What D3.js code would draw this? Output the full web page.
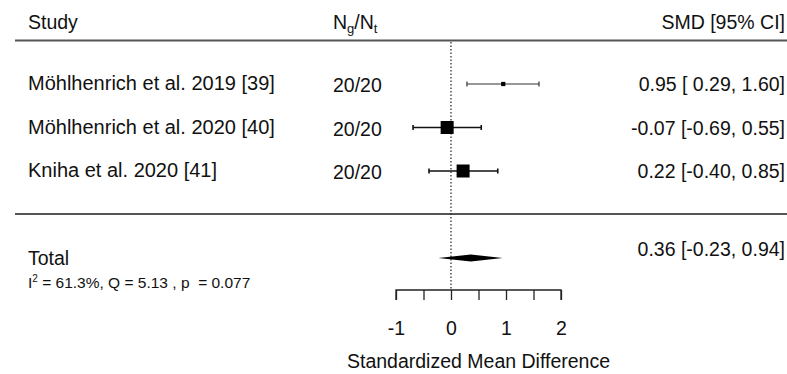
<!DOCTYPE html>
<html>
<head>
<meta charset="utf-8">
<script src="https://cdn.jsdelivr.net/npm/d3@7"></script>
<style>
  body { margin: 0; background: #fff; }
  text { font-family: Arial, "Liberation Sans", sans-serif; fill: #111; white-space: pre; }
</style>
</head>
<body>
<div id="chart"></div>
<script>
// study data
const studies = ['Möhlhenrich et al. 2019 [39]', 'Möhlhenrich et al. 2020 [40]', 'Kniha et al. 2020 [41]'];
const nText = ['20/20', '20/20', '20/20'];
const smd = [0.95, -0.07, 0.22];
const lower = [0.29, -0.69, -0.40];
const upper = [1.60, 0.55, 0.85];
const weights = [5, 47.5, 47.5];
const ciText = ['0.95 [ 0.29, 1.60]', '-0.07 [-0.69, 0.55]', '0.22 [-0.40, 0.85]'];

// pooled estimate
const total = { est: 0.36, lo: -0.23, hi: 0.94, label: '0.36 [-0.23, 0.94]' };
const hetText = ' = 61.3%, Q = 5.13 , p  = 0.077';

const xTicks = [-1, -0.5, 0, 0.5, 1, 1.5, 2];
const xTickLabels = [-1, 0, 1, 2];

const W = 787, H = 374;
const svg = d3.select('#chart').append('svg').attr('width', W).attr('height', H);

const x = d3.scaleLinear().domain([-1, 2]).range([396, 561]);
const rowY = d3.scalePoint().domain(studies).range([84, 171]);
const boxSize = d3.scaleSqrt().domain([0, 47.5]).range([0, 13]);

const lineCol = '#555';

// header
svg.append('text').attr('x', 28).attr('y', 29).attr('font-size', '19.5px').text('Study');
const nh = svg.append('text').attr('x', 333).attr('y', 29).attr('font-size', '19.5px');
nh.append('tspan').text('N');
nh.append('tspan').attr('font-size', '13px').attr('dy', 4).text('g');
nh.append('tspan').attr('dy', -4).text('/N');
nh.append('tspan').attr('font-size', '13px').attr('dy', 4).text('t');
svg.append('text').attr('x', 785).attr('y', 29).attr('text-anchor', 'end')
  .attr('font-size', '19.5px').text('SMD [95% CI]');

// horizontal rules
[40.5, 214].forEach(yy => {
  svg.append('line').attr('x1', 15).attr('x2', W).attr('y1', yy).attr('y2', yy)
    .attr('stroke', lineCol).attr('stroke-width', 2);
});

// zero line
svg.append('line').attr('x1', x(0)).attr('x2', x(0)).attr('y1', 42).attr('y2', 290)
  .attr('stroke', '#222').attr('stroke-width', 1.2).attr('stroke-dasharray', '1.5,2');

// study rows
studies.forEach((s, i) => {
  const y = rowY(s);
  svg.append('text').attr('x', 28).attr('y', y + 6).attr('font-size', '20px').text(s);
  svg.append('text').attr('x', 333).attr('y', y + 8).attr('font-size', '19.5px').text(nText[i]);
  svg.append('text').attr('x', 785).attr('y', y + 7).attr('text-anchor', 'end')
    .attr('font-size', '19.5px').text(ciText[i]);

  const sw = i === 0 ? 1.2 : 1.6;
  const col = i === 0 ? '#333' : '#111';
  svg.append('line').attr('x1', x(lower[i])).attr('x2', x(upper[i])).attr('y1', y).attr('y2', y)
    .attr('stroke', col).attr('stroke-width', sw);
  [lower[i], upper[i]].forEach(v => {
    svg.append('line').attr('x1', x(v)).attr('x2', x(v)).attr('y1', y - 2.5).attr('y2', y + 2.5)
      .attr('stroke', col).attr('stroke-width', sw);
  });
  const b = Math.max(boxSize(weights[i]), 3);
  svg.append('rect').attr('x', x(smd[i]) - b / 2).attr('y', y - b / 2)
    .attr('width', b).attr('height', b).attr('fill', '#000');
});

// total
svg.append('text').attr('x', 28).attr('y', 265).attr('font-size', '19.5px').text('Total');
const het = svg.append('text').attr('x', 28).attr('y', 288).attr('font-size', '15.5px');
het.append('tspan').text('I');
het.append('tspan').attr('font-size', '10px').attr('dy', -6).text('2');
het.append('tspan').attr('dy', 6).text(hetText);
svg.append('text').attr('x', 785).attr('y', 256).attr('text-anchor', 'end')
  .attr('font-size', '19.5px').text(total.label);

const ty = 258;
svg.append('path')
  .attr('d', `M${x(total.lo)},${ty} L${x(total.est)},${ty - 3.5} L${x(total.hi)},${ty} L${x(total.est)},${ty + 3.5} Z`)
  .attr('fill', '#000');

// axis
const axis = d3.axisBottom(x).tickValues(xTicks).tickSize(10)
  .tickFormat(d => xTickLabels.includes(d) ? d : '');
const ag = svg.append('g').attr('transform', 'translate(0,290)').call(axis);
ag.select('.domain').attr('stroke', '#222').attr('stroke-width', 1.3)
  .attr('d', `M${x(-1)},10V0H${x(2)}V10`);
ag.selectAll('.tick line').attr('stroke', '#222').attr('stroke-width', 1.3);
ag.selectAll('.tick text').attr('font-size', '19.5px').attr('font-family', 'Arial, "Liberation Sans", sans-serif')
  .attr('fill', '#111').attr('y', 31).attr('dy', '0.71em')
  .text(d => xTickLabels.includes(d) ? (d < 0 ? '-' + Math.abs(d) : d) : '');

svg.append('text').attr('x', x(0.5)).attr('y', 368).attr('text-anchor', 'middle')
  .attr('font-size', '19.5px').text('Standardized Mean Difference');
</script>
</body>
</html>
